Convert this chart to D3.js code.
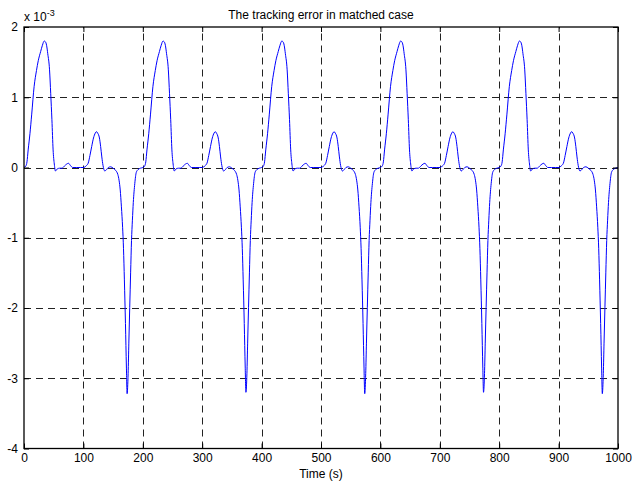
<!DOCTYPE html>
<html lang="en">
<head>
    <meta charset="UTF-8">
    <title>The tracking error in matched case</title>
    <script src="https://cdn.jsdelivr.net/npm/d3@7/dist/d3.min.js"></script>
    <style>
        body { margin: 0; background: #fff; }
        svg { display: block; font-family: "Liberation Sans", Arial, sans-serif; }
        .grid line { stroke: #222; stroke-width: 1; stroke-dasharray: 7, 5; }
        .tick-label { font-size: 12px; fill: #000; }
    </style>
</head>
<body>
<script>
    // time inside one 200 s cycle (s)
    const cycleTime = [0, 3, 5, 7, 10, 13, 17, 21, 24, 28, 31, 34, 36, 38, 40, 43, 45, 47, 49, 51, 53, 56, 60, 64, 68, 72, 75, 78, 82, 88, 95,
        101, 104, 108, 111, 114, 117, 120, 122, 124, 127, 129, 131, 133, 136, 139, 142, 146, 150, 153, 156, 158, 160, 162, 164, 166,
        167.5, 169, 170.8, 172.4, 173.6, 175.3, 176.5, 178, 179.5, 181, 182.5, 184, 186.5, 189, 192, 196]
    const cycleStart = [0, 200, 400, 600, 800]

    // tracking error, units of 1e-3, one row per cycle
    const error1 = [0, 0.02, 0.08, 0.25, 0.48, 0.76, 1.15, 1.38, 1.52, 1.65, 1.74, 1.8, 1.79, 1.74, 1.62, 1.39, 1.05, 0.68, 0.25, 0.05, -0.05, -0.02, -0.01, -0.01, 0.02, 0.05, 0.06, 0.03, 0, 0, 0,
        0, 0.02, 0.06, 0.17, 0.3, 0.42, 0.49, 0.51, 0.49, 0.42, 0.3, 0.15, 0.03, -0.05, -0.03, 0, 0.01, -0.01, -0.03, -0.06, -0.1, -0.18, -0.32, -0.56, -0.85,
        -1.15, -1.6, -2.22, -2.84, -3.22, -2.93, -2.5, -1.99, -1.5, -1.04, -0.75, -0.5, -0.23, -0.07, -0.03, -0.01]
    const error2 = [0, 0.02, 0.08, 0.25, 0.48, 0.76, 1.15, 1.38, 1.52, 1.65, 1.74, 1.8, 1.79, 1.74, 1.62, 1.39, 1.05, 0.68, 0.25, 0.05, -0.05, -0.02, -0.01, -0.01, 0.02, 0.05, 0.06, 0.03, 0, 0, 0,
        0, 0.02, 0.06, 0.17, 0.3, 0.42, 0.49, 0.51, 0.49, 0.42, 0.3, 0.15, 0.03, -0.05, -0.03, 0, 0.01, -0.01, -0.03, -0.06, -0.1, -0.18, -0.32, -0.56, -0.85,
        -1.15, -1.6, -2.22, -2.84, -3.2, -2.93, -2.5, -1.99, -1.5, -1.04, -0.75, -0.5, -0.23, -0.07, -0.03, -0.01]
    const error3 = [0, 0.02, 0.08, 0.25, 0.48, 0.76, 1.15, 1.38, 1.52, 1.65, 1.74, 1.8, 1.79, 1.74, 1.62, 1.39, 1.05, 0.68, 0.25, 0.05, -0.05, -0.02, -0.01, -0.01, 0.02, 0.05, 0.06, 0.03, 0, 0, 0,
        0, 0.02, 0.06, 0.17, 0.3, 0.42, 0.49, 0.51, 0.49, 0.42, 0.3, 0.15, 0.03, -0.05, -0.03, 0, 0.01, -0.01, -0.03, -0.06, -0.1, -0.18, -0.32, -0.56, -0.85,
        -1.15, -1.6, -2.22, -2.84, -3.22, -2.93, -2.5, -1.99, -1.5, -1.04, -0.75, -0.5, -0.23, -0.07, -0.03, -0.01]
    const error4 = [0, 0.02, 0.08, 0.25, 0.48, 0.76, 1.15, 1.38, 1.52, 1.65, 1.74, 1.8, 1.79, 1.74, 1.62, 1.39, 1.05, 0.68, 0.25, 0.05, -0.05, -0.02, -0.01, -0.01, 0.02, 0.05, 0.06, 0.03, 0, 0, 0,
        0, 0.02, 0.06, 0.17, 0.3, 0.42, 0.49, 0.51, 0.49, 0.42, 0.3, 0.15, 0.03, -0.05, -0.03, 0, 0.01, -0.01, -0.03, -0.06, -0.1, -0.18, -0.32, -0.56, -0.85,
        -1.15, -1.6, -2.22, -2.84, -3.2, -2.93, -2.5, -1.99, -1.5, -1.04, -0.75, -0.5, -0.23, -0.07, -0.03, -0.01]
    const error5 = [0, 0.02, 0.08, 0.25, 0.48, 0.76, 1.15, 1.38, 1.52, 1.65, 1.74, 1.8, 1.79, 1.74, 1.62, 1.39, 1.05, 0.68, 0.25, 0.05, -0.05, -0.02, -0.01, -0.01, 0.02, 0.05, 0.06, 0.03, 0, 0, 0,
        0, 0.02, 0.06, 0.17, 0.3, 0.42, 0.49, 0.51, 0.49, 0.42, 0.3, 0.15, 0.03, -0.05, -0.03, 0, 0.01, -0.01, -0.03, -0.06, -0.1, -0.18, -0.32, -0.56, -0.85,
        -1.15, -1.6, -2.22, -2.84, -3.22, -2.93, -2.5, -1.99, -1.5, -1.04, -0.75, -0.5, -0.23, -0.07, -0.03, -0.01]
    const errorEnd = [1000, 0]

    const xTicks = [0, 100, 200, 300, 400, 500, 600, 700, 800, 900, 1000]
    const yTicks = [-4, -3, -2, -1, 0, 1, 2]

    const W = 634, H = 484
    const margin = {top: 27, right: 16, bottom: 35.5, left: 24}

    const scaleX = d3.scaleLinear().domain([0, 1000]).range([margin.left, W - margin.right])
    const scaleY = d3.scaleLinear().domain([-4, 2]).range([H - margin.bottom, margin.top])

    // stitch the cycles into one series
    const series = []
    const cycles = [error1, error2, error3, error4, error5]
    cycles.forEach((vals, c) => {
        vals.forEach((v, i) => series.push({t: cycleStart[c] + cycleTime[i], v: v}))
    })
    series.push({t: errorEnd[0], v: errorEnd[1]})

    const svg = d3.select("body").append("svg").attr("width", W).attr("height", H)

    const x0 = scaleX.range()[0], x1 = scaleX.range()[1]
    const y0 = scaleY.range()[0], y1 = scaleY.range()[1]

    // dashed grid
    const grid = svg.append("g").attr("class", "grid")
    grid.selectAll(".gx").data(xTicks.slice(1, -1)).join("line")
        .attr("x1", d => Math.round(scaleX(d)) + 0.5).attr("x2", d => Math.round(scaleX(d)) + 0.5)
        .attr("y1", y0).attr("y2", y1)
    grid.selectAll(".gy").data(yTicks.slice(1, -1)).join("line")
        .attr("class", "gy")
        .attr("y1", d => Math.round(scaleY(d)) + 0.5).attr("y2", d => Math.round(scaleY(d)) + 0.5)
        .attr("x1", x0).attr("x2", x1)

    // the curve
    const line = d3.line().x(d => scaleX(d.t)).y(d => scaleY(d.v)).curve(d3.curveMonotoneX)
    svg.append("path").datum(series)
        .attr("d", line)
        .attr("fill", "none")
        .attr("stroke", "#0000ff")
        .attr("stroke-width", 1)

    // axes, matlab style ticks pointing inwards
    const tickLen = 5
    const plain = d => String(d)   // ascii hyphen for negatives, like the original
    svg.append("g").attr("transform", `translate(0,${y0})`)
        .call(d3.axisBottom(scaleX).tickValues(xTicks).tickSize(-tickLen).tickPadding(5).tickFormat(plain))
        .call(g => g.select(".domain").remove())
    svg.append("g").attr("transform", `translate(0,${y1})`)
        .call(d3.axisTop(scaleX).tickValues(xTicks).tickSize(-tickLen).tickFormat(""))
        .call(g => g.select(".domain").remove())
    svg.append("g").attr("transform", `translate(${x0},0)`)
        .call(d3.axisLeft(scaleY).tickValues(yTicks).tickSize(-tickLen).tickPadding(6).tickFormat(plain))
        .call(g => g.select(".domain").remove())
    svg.append("g").attr("transform", `translate(${x1},0)`)
        .call(d3.axisRight(scaleY).tickValues(yTicks).tickSize(-tickLen).tickFormat(""))
        .call(g => g.select(".domain").remove())

    svg.selectAll(".tick text").attr("class", "tick-label").attr("font-family", null).attr("font-size", null)
    svg.selectAll(".tick line").attr("stroke", "#000")

    // frame
    svg.append("rect")
        .attr("x", x0).attr("y", y1)
        .attr("width", x1 - x0).attr("height", y0 - y1)
        .attr("fill", "none").attr("stroke", "#000").attr("stroke-width", 1.3)

    // texts
    svg.append("text").attr("x", (x0 + x1) / 2).attr("y", 19)
        .attr("text-anchor", "middle").attr("font-size", 12)
        .text("The tracking error in matched case")

    svg.append("text").attr("x", (x0 + x1) / 2).attr("y", 478)
        .attr("text-anchor", "middle").attr("font-size", 12)
        .text("Time (s)")

    const mult = svg.append("text").attr("x", x0).attr("y", 21).attr("font-size", 12)
    mult.append("tspan").text("x 10")
    mult.append("tspan").attr("dy", -5).attr("font-size", 9).text("-3")
</script>
</body>
</html>
